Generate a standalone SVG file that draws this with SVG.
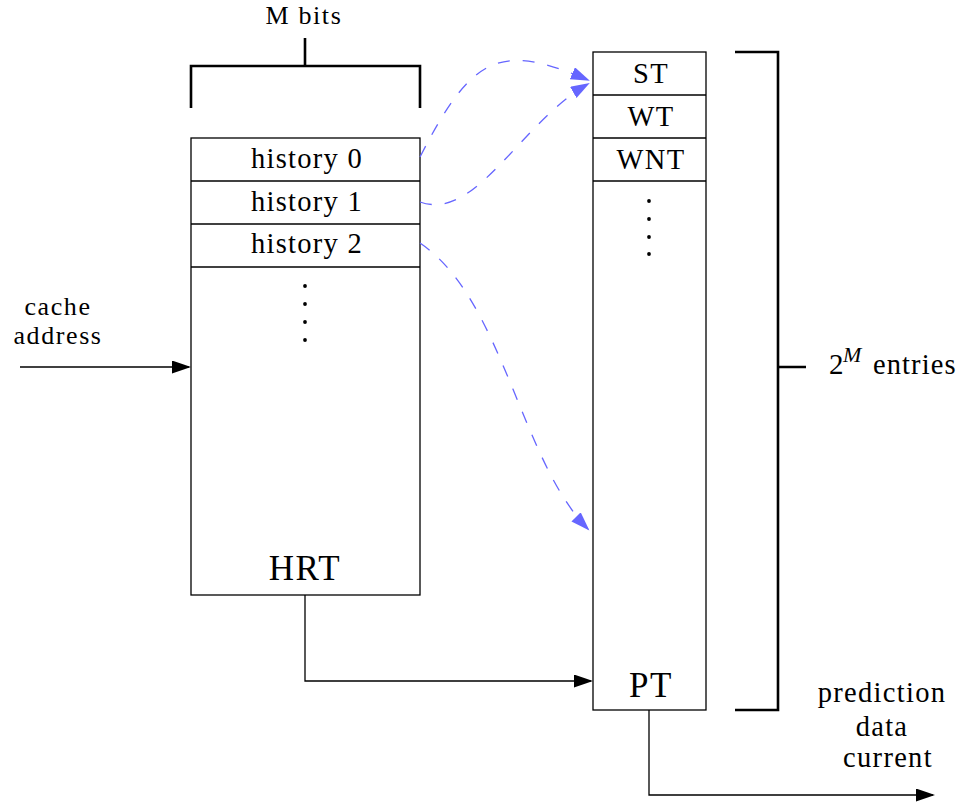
<svg xmlns="http://www.w3.org/2000/svg" width="973" height="807" viewBox="0 0 973 807">
  <defs>
    <style>
      text { font-family: "Liberation Serif", "DejaVu Serif", serif; fill: #000; }
      .lbl { font-size: 28.5px; letter-spacing: 1.3px; text-anchor: middle; }
      .sm { font-size: 26px; letter-spacing: 1.6px; text-anchor: middle; }
      .big { font-size: 35px; letter-spacing: 1.5px; text-anchor: middle; }
      .box { fill: #fff; stroke: #000; stroke-width: 1.3; }
      .wire { fill: none; stroke: #000; stroke-width: 1.3; }
      .brace { fill: none; stroke: #000; stroke-width: 2.6; stroke-linejoin: miter; stroke-linecap: butt; }
      .map { fill: none; stroke: #6666ff; stroke-width: 1.3; stroke-dasharray: 12 13; }
      .dot { fill: #000; }
    </style>
    <marker id="arrowK" markerUnits="userSpaceOnUse" markerWidth="20" markerHeight="14" refX="17" refY="6.5" orient="auto">
      <path d="M0,0 L19,6.5 L0,13 z" fill="#000"/>
    </marker>
    <marker id="arrowB" markerUnits="userSpaceOnUse" markerWidth="20" markerHeight="14" refX="17" refY="6.5" orient="auto">
      <path d="M0,0 L19,6.5 L0,13 z" fill="#6666ff"/>
    </marker>
  </defs>

  <!-- history register table -->
  <g id="hrt">
    <rect class="box" x="191" y="138" width="229" height="457"/>
    <line class="wire" x1="191" y1="181" x2="420" y2="181"/>
    <line class="wire" x1="191" y1="224" x2="420" y2="224"/>
    <line class="wire" x1="191" y1="267" x2="420" y2="267"/>
    <text class="lbl" x="307" y="168">history 0</text>
    <text class="lbl" x="307" y="211">history 1</text>
    <text class="lbl" x="307" y="253">history 2</text>
    <circle class="dot" cx="305" cy="286" r="1.9"/>
    <circle class="dot" cx="305" cy="304" r="1.9"/>
    <circle class="dot" cx="305" cy="322" r="1.9"/>
    <circle class="dot" cx="305" cy="340" r="1.9"/>
    <text class="big" x="305" y="580">HRT</text>
  </g>

  <!-- pattern table -->
  <g id="pt">
    <rect class="box" x="593" y="52" width="113" height="658"/>
    <line class="wire" x1="593" y1="95" x2="706" y2="95"/>
    <line class="wire" x1="593" y1="138" x2="706" y2="138"/>
    <line class="wire" x1="593" y1="181" x2="706" y2="181"/>
    <text class="lbl" x="651" y="83">ST</text>
    <text class="lbl" x="651" y="126">WT</text>
    <text class="lbl" x="651" y="169">WNT</text>
    <circle class="dot" cx="649" cy="201" r="1.9"/>
    <circle class="dot" cx="649" cy="219" r="1.9"/>
    <circle class="dot" cx="649" cy="237" r="1.9"/>
    <circle class="dot" cx="649" cy="254" r="1.9"/>
    <text class="big" x="651" y="697">PT</text>
  </g>

  <!-- width brace over the history table -->
  <g id="mbits">
    <path class="brace" d="M191,108 V66 H420 V108 M305,66 V38"/>
    <text class="sm" x="304" y="24">M bits</text>
  </g>

  <!-- height brace beside the pattern table -->
  <g id="entries">
    <path class="brace" d="M735,52 H778 V710 H735 M778,367 H806"/>
    <text style="font-size:29px" x="829" y="374">2</text>
    <text style="font-size:22px; font-style:italic" x="843" y="362">M</text>
    <text style="font-size:28.5px; letter-spacing:1.1px" x="873" y="374">entries</text>
  </g>

  <g id="input-label">
    <text class="sm" x="58" y="315">cache</text>
    <text class="sm" x="58" y="344">address</text>
  </g>

  <g id="output-label">
    <text class="lbl" x="882" y="702">prediction</text>
    <text class="lbl" x="882" y="736">data</text>
    <text class="lbl" x="888" y="767">current</text>
  </g>

  <!-- connectors -->
  <g id="connectors">
    <path class="wire" d="M20,367 H189" marker-end="url(#arrowK)"/>
    <path class="wire" d="M305,595 V681 H591" marker-end="url(#arrowK)"/>
    <path class="wire" d="M649,710 V795 H933" marker-end="url(#arrowK)"/>
    <path class="map" d="M420,157 C472,55 500,42 588,80" marker-end="url(#arrowB)"/>
    <path class="map" d="M420,202 C476,222 520,123 588,84" marker-end="url(#arrowB)"/>
    <path class="map" d="M420,243 C503,299 520,460 588,529" marker-end="url(#arrowB)"/>
  </g>
</svg>
